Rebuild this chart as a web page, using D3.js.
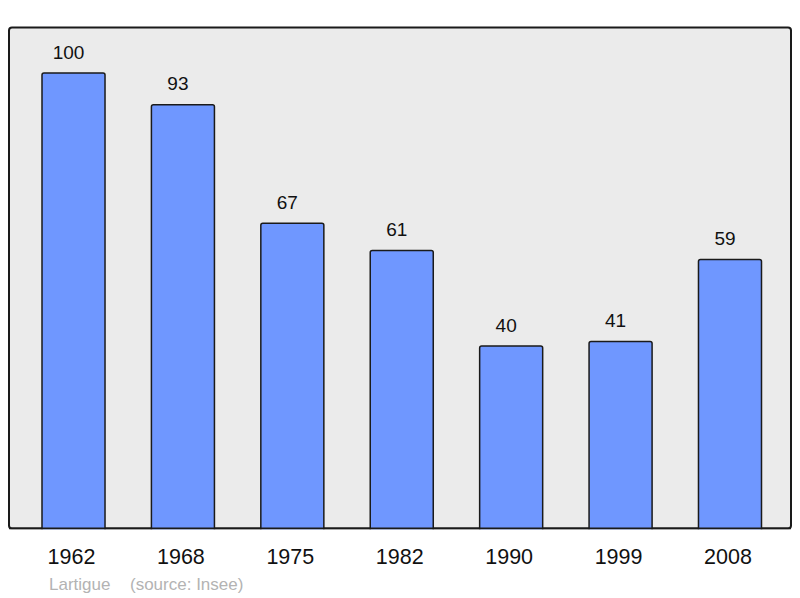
<!DOCTYPE html>
<html>
<head>
<meta charset="utf-8">
<script src="https://cdn.jsdelivr.net/npm/d3@7"></script>
<style>
body { margin: 0; background: #fff; }
text { font-family: "Liberation Sans", Arial, sans-serif; }
</style>
</head>
<body>
<svg id="chart" width="800" height="598"></svg>
<script>
var years = ["1962", "1968", "1975", "1982", "1990", "1999", "2008"];
var population = [100, 93, 67, 61, 40, 41, 59];
var commune = "Lartigue";
var source = "(source: Insee)";

var svg = d3.select('#chart');

var x = d3.scaleBand()
	.domain(years)
	.range([42, 761.5])
	.paddingInner(0.424)
	.paddingOuter(0);

var y = d3.scaleLinear()
	.domain([0, 100])
	.range([528, 73]);

// background panel
svg.append('rect')
	.attr('x', 9)
	.attr('y', 27.5)
	.attr('width', 782)
	.attr('height', 501)
	.attr('rx', 3)
	.attr('fill', '#ebebeb')
	.attr('stroke', '#1a1a1a')
	.attr('stroke-width', 2);

svg.selectAll('.bar')
	.data(population)
	.enter().append('rect')
	.attr('class', 'bar')
	.attr('x', function(d, i) { return x(years[i]); })
	.attr('y', function(d) { return y(d); })
	.attr('width', x.bandwidth())
	.attr('height', function(d) { return y(0) - y(d) + 4; })
	.attr('rx', 2)
	.attr('fill', '#6f97ff')
	.attr('stroke', '#1a1a1a')
	.attr('stroke-width', 1.5);

// redraw bottom edge over the bar feet
svg.append('line')
	.attr('x1', 9)
	.attr('x2', 791)
	.attr('y1', 528.5)
	.attr('y2', 528.5)
	.attr('stroke', '#1a1a1a')
	.attr('stroke-width', 2);
svg.append('rect')
	.attr('x', 0)
	.attr('y', 529.5)
	.attr('width', 800)
	.attr('height', 10)
	.attr('fill', '#fff');

svg.selectAll('.val')
	.data(population)
	.enter().append('text')
	.attr('class', 'val')
	.attr('x', function(d, i) { return x(years[i]) + x.bandwidth() / 2 - 5; })
	.attr('y', function(d) { return y(d) - 14.5; })
	.attr('text-anchor', 'middle')
	.attr('font-size', 19)
	.attr('fill', '#111')
	.text(function(d) { return d; });

svg.selectAll('.year')
	.data(years)
	.enter().append('text')
	.attr('class', 'year')
	.attr('x', function(d) { return x(d) + x.bandwidth() / 2 - 2; })
	.attr('y', 564)
	.attr('text-anchor', 'middle')
	.attr('font-size', 21.5)
	.attr('fill', '#111')
	.text(function(d) { return d; });

svg.append('text')
	.attr('x', 49)
	.attr('y', 590)
	.attr('font-size', 17)
	.attr('fill', '#b3b3b3')
	.text(commune);
svg.append('text')
	.attr('x', 130)
	.attr('y', 590)
	.attr('font-size', 17)
	.attr('fill', '#b3b3b3')
	.text(source);
</script>
</body>
</html>
